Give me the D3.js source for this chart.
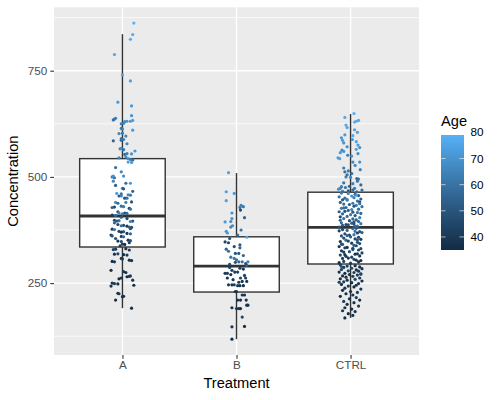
<!DOCTYPE html>
<html><head><meta charset="utf-8">
<script src="https://cdn.jsdelivr.net/npm/d3@7"></script>
<style>body{margin:0;background:#fff}svg{display:block}text{font-family:"Liberation Sans",Arial,sans-serif}</style>
</head><body>
<script>
// ---------- data ----------
const categories = ["A", "B", "CTRL"];
const yTicks = [250, 500, 750];
const yMinorTicks = [125, 375, 625, 875];
const ageBreaks = [40, 50, 60, 70, 80];

// box statistics: lower whisker, Q1, median, Q3, upper whisker
const boxLow  = [191, 118, 168];
const boxQ1   = [335, 229, 295];
const boxMed  = [408, 290, 381];
const boxQ3   = [543, 359, 464];
const boxHigh = [836, 509, 648];

// group A points: concentration, age, jitter (category units)
const A_conc = [862,835,824,788,740,726,676,667,644,638,636,634,633,631,631,630,626,625,610,614,613,602,603,596,585,590,588,586,578,566,567,564,561,554,555,553,545,543,540,541,547,535,534,522,512,500,498,502,502,485,485,480,490,473,472,461,460,466,458,457,455,455,450,450,440,438,440,441,431,430,429,428,426,424,418,415,410,409,415,414,413,398,397,396,396,395,386,385,384,382,381,377,376,372,371,367,366,363,361,360,359,349,348,351,350,342,341,330,329,331,328,318,319,317,316,308,307,301,300,304,303,280,277,275,266,267,265,257,262,260,250,249,248,243,245,226,225,219,218,210,191,405,402,392,388,378,370,355,345,338];
const A_age  = [79,78,77,76,75,74,73,72,70,64,62,60,73,72,70,68,66,62,72,60,64,66,62,65,55,60,63,58,66,62,68,60,72,70,64,60,65,70,58,62,68,74,72,60,66,62,58,70,68,72,58,54,66,64,50,74,60,56,68,62,52,66,48,60,70,56,64,50,58,62,46,54,44,60,50,66,42,56,48,58,62,44,60,52,50,64,46,58,40,54,48,42,62,46,52,40,56,44,50,42,58,40,46,38,50,42,36,40,44,38,42,38,46,36,40,38,42,36,40,38,36,38,40,36,38,42,36,40,38,36,38,40,36,38,36,38,40,36,38,36,36,52,46,56,44,50,40,48,44,40];
const A_jit  = [0.10,0.09,0.07,-0.07,0.00,0.07,-0.04,0.08,0.08,-0.06,-0.07,-0.08,0.09,0.07,0.04,0.02,0.01,-0.01,0.09,-0.01,0.00,-0.03,0.00,0.03,-0.08,-0.01,0.01,-0.01,0.04,-0.02,-0.01,0.01,0.11,0.08,0.04,0.02,-0.03,0.05,0.09,0.07,0.03,0.05,0.08,-0.06,-0.01,-0.09,-0.07,-0.08,0.01,0.07,0.03,-0.06,-0.08,0.00,0.01,-0.05,-0.01,0.09,0.05,0.07,-0.03,-0.01,0.02,0.04,-0.06,-0.04,0.03,0.08,-0.01,0.01,-0.07,-0.09,0.06,0.07,-0.04,-0.03,-0.09,-0.06,0.02,0.04,0.00,-0.07,-0.03,-0.05,0.09,0.07,0.01,-0.01,0.04,0.06,0.08,-0.09,-0.07,-0.03,0.01,0.04,0.07,-0.10,-0.09,-0.01,0.01,-0.04,-0.01,0.05,0.07,0.00,0.02,-0.06,-0.08,0.03,0.06,-0.07,-0.04,0.01,0.04,-0.01,0.00,-0.09,-0.07,0.06,0.08,-0.10,0.01,0.03,0.06,0.07,0.04,0.09,-0.01,-0.03,-0.09,-0.07,-0.04,-0.10,0.10,-0.04,-0.03,0.01,0.00,-0.06,0.08,-0.01,0.04,-0.07,-0.04,0.07,-0.01,-0.06,0.06,-0.02];

// group B points
const B_conc = [510,465,461,444,433,430,428,422,415,404,402,395,394,385,382,372,368,375,363,358,355,347,345,340,336,333,330,325,320,320,315,311,308,305,300,300,300,292,299,296,294,285,280,273,273,276,276,268,262,262,262,258,254,254,246,246,246,244,244,244,230,230,222,222,210,210,210,192,198,198,190,190,190,170,147,148,118,287,283,270,252];
const B_age  = [75,73,72,74,64,62,60,46,70,55,70,68,72,68,66,70,72,60,58,76,50,44,46,52,48,55,54,58,50,52,56,60,62,58,56,60,64,55,50,48,46,42,44,42,40,40,42,44,45,44,38,40,38,40,40,38,42,40,38,36,38,40,40,38,38,36,38,38,36,38,38,36,40,44,38,36,36,44,40,38,40];
const B_jit  = [-0.07,-0.09,-0.02,-0.09,0.04,0.06,0.03,0.035,-0.04,0.07,-0.04,-0.05,-0.10,-0.035,-0.05,-0.09,-0.08,0.04,0.01,0.09,-0.06,-0.10,-0.07,0.03,-0.02,0.03,-0.09,-0.07,-0.01,0.02,0.06,-0.05,-0.02,0.00,0.02,0.05,0.10,0.09,-0.01,0.08,-0.06,0.03,-0.04,-0.08,-0.10,-0.015,0.01,0.07,0.035,0.08,-0.08,-0.03,0.05,0.09,-0.07,-0.04,-0.02,0.01,0.03,0.06,-0.01,0.00,0.05,0.07,0.01,0.035,0.085,-0.04,0.09,0.10,0.02,0.035,0.00,0.05,-0.04,0.07,-0.04,-0.06,0.06,-0.05,0.02];

// group CTRL points
const C_conc = [649,640,633,629,616,611,599,597,586,588,583,575,580,571,565,563,560,557,555,551,549,543,535,535,512,514,517,508,500,495,496,499,473,475,473,469,478,484,486,471,465,467,631,622,605,592,569,545,527,521,505,490,481,477,469,466,
462,459,461,456,453,455,450,448,451,446,443,445,440,438,441,436,433,435,430,428,431,426,424,421,423,418,416,419,414,411,413,409,407,404,406,401,399,402,397,395,392,394,390,388,391,386,384,387,383,382,457,447,437,427,417,398,389,
379,376,378,373,371,374,368,366,369,363,361,364,358,356,359,353,351,354,348,346,349,343,341,344,338,336,339,333,331,334,328,326,329,323,321,324,318,316,319,313,311,314,308,306,309,303,301,304,298,297,300,372,362,352,342,332,317,
293,291,290,288,287,285,284,282,281,279,278,276,275,273,272,270,269,267,266,264,262,260,259,257,255,253,251,249,247,245,243,241,238,236,233,230,228,225,222,219,216,213,210,207,204,200,196,192,189,185,183,178,174,168,289,271,252];
const C_age  = [78,77,76,78,75,74,72,76,73,70,75,72,70,68,74,66,70,72,68,64,70,75,70,66,60,62,65,58,64,62,56,66,66,60,62,58,55,64,60,68,58,52,77,76,74,71,69,73,67,63,60,62,57,63,56,60,
62,56,66,52,60,68,58,54,64,50,60,66,55,62,48,58,64,52,60,56,50,63,58,54,66,52,60,48,57,62,54,50,58,64,46,56,52,60,48,55,58,50,62,46,54,52,58,48,56,50,70,65,60,58,52,55,47,
52,46,58,44,50,56,42,48,54,46,50,60,44,48,52,42,56,46,40,50,44,48,54,42,46,40,52,44,48,38,46,42,50,40,44,48,38,46,42,40,44,38,42,46,40,38,44,40,36,42,38,62,55,50,48,45,40,
42,38,44,36,40,46,38,42,36,44,40,38,42,36,44,38,40,36,42,38,40,36,44,38,36,42,38,40,36,38,42,36,38,40,36,38,42,36,38,36,40,38,36,42,38,36,40,38,36,40,38,36,38,35,50,45,40];
const C_jit  = [0.03,-0.05,0.07,0.035,-0.03,0.035,-0.05,0.02,-0.07,0.015,0.05,0.065,-0.06,-0.03,0.05,-0.075,-0.06,-0.09,0.065,-0.025,0.01,-0.095,0.08,0.02,-0.05,-0.02,0.085,0.01,-0.04,0.07,0.055,0,-0.09,-0.045,0.035,0.10,-0.01,0.02,-0.06,-0.105,0.055,-0.02,0.05,-0.04,0.06,-0.08,0.08,-0.11,0.04,-0.06,-0.03,0.06,0.09,-0.08,0.02,-0.07,
-0.08,0.04,-0.02,0.07,-0.1,0.01,-0.05,0.09,0.03,-0.07,0.06,-0.03,-0.09,0.02,0.08,-0.06,0.05,-0.01,0.1,-0.04,0.03,-0.08,0.07,-0.02,0.01,-0.1,0.06,-0.05,0.09,0.0,-0.07,0.04,-0.03,0.08,-0.09,0.02,0.05,-0.06,-0.01,0.07,-0.08,0.03,0.09,-0.04,0.01,-0.07,0.06,-0.02,0.04,-0.1,0.05,-0.03,0.08,-0.06,0.02,-0.09,0.03,
0.05,-0.07,0.02,-0.1,0.08,-0.03,0.06,-0.05,0.1,-0.01,-0.08,0.03,0.07,-0.06,0.0,0.09,-0.04,0.04,-0.09,0.06,-0.02,0.08,-0.07,0.01,0.05,-0.1,0.03,-0.05,0.09,-0.03,0.07,-0.08,0.02,-0.06,0.1,-0.01,0.04,-0.09,0.06,-0.04,0.01,0.08,-0.07,0.03,-0.02,0.09,-0.06,0.05,-0.1,0.0,0.07,0.04,-0.03,0.06,-0.08,0.02,-0.05,
-0.09,0.04,-0.03,0.08,-0.06,0.01,0.1,-0.08,0.05,-0.02,0.07,-0.1,0.03,-0.05,0.09,-0.01,0.06,-0.07,0.02,-0.04,0.08,-0.09,0.04,-0.03,0.1,-0.06,0.01,0.07,-0.08,0.05,-0.02,0.03,-0.05,0.09,-0.07,0.0,0.06,-0.04,0.02,-0.09,0.05,-0.01,0.08,-0.06,0.03,-0.03,0.07,-0.05,0.01,-0.07,0.04,-0.02,0.02,-0.05,-0.08,0.09,-0.1];

// ---------- build ----------
const groups = [
  {cat: "A", conc: A_conc, age: A_age, jit: A_jit},
  {cat: "B", conc: B_conc, age: B_age, jit: B_jit},
  {cat: "CTRL", conc: C_conc, age: C_age, jit: C_jit}
];
const points = [];
groups.forEach(g => {
  const n = Math.min(g.conc.length, g.age.length, g.jit.length);
  for (let i = 0; i < n; i++) points.push({cat: g.cat, v: g.conc[i], age: g.age[i], j: g.jit[i]});
});
const boxes = categories.map((c, i) => ({cat: c, lo: boxLow[i], q1: boxQ1[i], med: boxMed[i], q3: boxQ3[i], hi: boxHigh[i]}));

const W = 500, H = 400;
const P = {l: 54, r: 419, t: 7.3, b: 355};

const svg = d3.select("body").append("svg").attr("width", W).attr("height", H);
svg.append("rect").attr("width", W).attr("height", H).attr("fill", "#fff");

const x = d3.scalePoint().domain(categories).range([P.l, P.r]).padding(0.6);
const step = x.step();
const allV = points.map(p => p.v).concat(boxLow, boxHigh);
const vmin = d3.min(allV), vmax = d3.max(allV), R = vmax - vmin;
const y = d3.scaleLinear().domain([vmin - 0.05 * R, vmax + 0.05 * R]).range([P.b, P.t]);

const ageExt = d3.extent(points, p => p.age);
const color = d3.scaleLinear().domain(ageExt).range(["#132B43", "#56B1F7"]).interpolate(d3.interpolateLab);

// panel
svg.append("rect").attr("x", P.l).attr("y", P.t).attr("width", P.r - P.l).attr("height", P.b - P.t).attr("fill", "#EBEBEB");
const grid = svg.append("g");
grid.selectAll(".ymin").data(yMinorTicks.filter(t => y(t) >= P.t && y(t) <= P.b)).join("line")
  .attr("x1", P.l).attr("x2", P.r).attr("y1", d => y(d)).attr("y2", d => y(d))
  .attr("stroke", "#fff").attr("stroke-width", 0.7);
grid.selectAll(".ymaj").data(yTicks).join("line")
  .attr("x1", P.l).attr("x2", P.r).attr("y1", d => y(d)).attr("y2", d => y(d))
  .attr("stroke", "#fff").attr("stroke-width", 1.4);
grid.selectAll(".xmaj").data(categories).join("line")
  .attr("y1", P.t).attr("y2", P.b).attr("x1", d => x(d)).attr("x2", d => x(d))
  .attr("stroke", "#fff").attr("stroke-width", 1.4);

// boxes
const bw = 0.75 * step;
const bx = svg.append("g");
boxes.forEach(b => {
  const cx = x(b.cat);
  bx.append("line").attr("x1", cx).attr("x2", cx).attr("y1", y(b.q3)).attr("y2", y(b.hi)).attr("stroke", "#333").attr("stroke-width", 1.4);
  bx.append("line").attr("x1", cx).attr("x2", cx).attr("y1", y(b.q1)).attr("y2", y(b.lo)).attr("stroke", "#333").attr("stroke-width", 1.4);
  bx.append("rect").attr("x", cx - bw / 2).attr("width", bw).attr("y", y(b.q3)).attr("height", y(b.q1) - y(b.q3))
    .attr("fill", "#fff").attr("stroke", "#333").attr("stroke-width", 1.4);
  bx.append("line").attr("x1", cx - bw / 2).attr("x2", cx + bw / 2).attr("y1", y(b.med)).attr("y2", y(b.med)).attr("stroke", "#333").attr("stroke-width", 2.8);
});

// points
svg.append("g").selectAll("circle").data(points).join("circle")
  .attr("cx", d => x(d.cat) + d.j * step)
  .attr("cy", d => y(d.v))
  .attr("r", 1.6)
  .attr("fill", d => color(d.age));

// axes
const yAxis = svg.append("g").attr("transform", `translate(${P.l},0)`)
  .call(d3.axisLeft(y).tickValues(yTicks).tickSize(3.7).tickPadding(3));
const xAxis = svg.append("g").attr("transform", `translate(0,${P.b})`)
  .call(d3.axisBottom(x).tickSize(3.7).tickPadding(2.3));
[yAxis, xAxis].forEach(a => {
  a.select(".domain").remove();
  a.selectAll(".tick line").attr("stroke", "#333").attr("stroke-width", 1.1);
  a.selectAll(".tick text").attr("fill", "#4D4D4D").style("font-size", "11.7px").style("font-family", '"Liberation Sans",Arial,sans-serif');
});

svg.append("text").attr("x", (P.l + P.r) / 2).attr("y", 388).attr("text-anchor", "middle")
  .style("font-size", "14.67px").attr("fill", "#000").text("Treatment");
svg.append("text").attr("transform", `translate(18.3,${(P.t + P.b) / 2}) rotate(-90)`).attr("text-anchor", "middle")
  .style("font-size", "14.67px").attr("fill", "#000").text("Concentration");

// legend
const L = {x: 441, y: 135, w: 23, h: 115};
const defs = svg.append("defs");
const grad = defs.append("linearGradient").attr("id", "ageGrad").attr("x1", 0).attr("x2", 0).attr("y1", 1).attr("y2", 0);
d3.range(0, 1.0001, 0.05).forEach(t => {
  grad.append("stop").attr("offset", t).attr("stop-color", color(ageExt[0] + t * (ageExt[1] - ageExt[0])));
});
svg.append("text").attr("x", L.x).attr("y", 126).style("font-size", "14.67px").attr("fill", "#000").text("Age");
svg.append("rect").attr("x", L.x).attr("y", L.y).attr("width", L.w).attr("height", L.h).attr("fill", "url(#ageGrad)");
const ly = d3.scaleLinear().domain(ageExt).range([L.y + L.h, L.y]);
const lg = svg.append("g");
ageBreaks.forEach(b => {
  const yy = ly(b);
  lg.append("line").attr("x1", L.x).attr("x2", L.x + 4.6).attr("y1", yy).attr("y2", yy).attr("stroke", "#fff").attr("stroke-opacity", 0.75).attr("stroke-width", 0.8);
  lg.append("line").attr("x1", L.x + L.w - 4.6).attr("x2", L.x + L.w).attr("y1", yy).attr("y2", yy).attr("stroke", "#fff").attr("stroke-opacity", 0.75).attr("stroke-width", 0.8);
  lg.append("text").attr("x", L.x + L.w + 6.5).attr("y", yy).attr("dy", "0.35em").style("font-size", "11.7px").attr("fill", "#000").text(b);
});
</script>
</body></html>
